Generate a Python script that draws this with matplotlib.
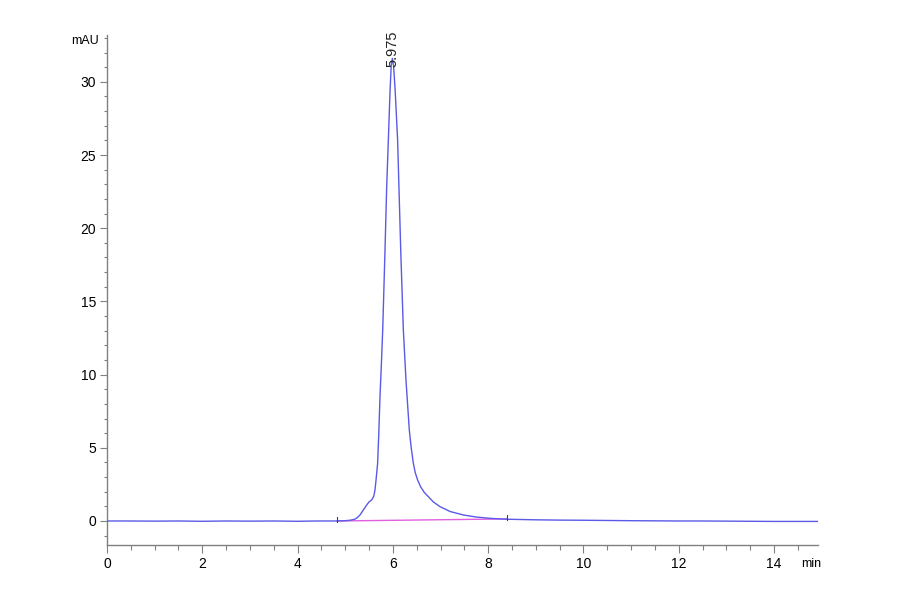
import matplotlib
matplotlib.use("Agg")
import matplotlib.pyplot as plt
from matplotlib.ticker import MultipleLocator

plt.rcParams['font.family'] = ['Liberation Sans Narrow', 'Liberation Sans', 'DejaVu Sans']

# Chromatogram trace (time in min, signal in mAU)
trace_t = [0.0, 0.5, 1.0, 1.5, 2.0, 2.5, 3.0, 3.5, 4.0, 4.4, 4.6, 4.83, 5.0, 5.1, 5.15,
           5.2, 5.25, 5.31, 5.38, 5.45, 5.5, 5.556, 5.6, 5.625, 5.65, 5.68, 5.705, 5.73,
           5.76, 5.787, 5.835, 5.87, 5.905, 5.94, 5.965, 5.99, 6.015, 6.05, 6.10, 6.165,
           6.22, 6.275, 6.345, 6.385, 6.43, 6.47, 6.52, 6.58, 6.66, 6.745, 6.85, 6.99, 7.2,
           7.48, 7.75, 8.04, 8.39, 9.0, 9.5, 10.0, 11.0, 12.0, 12.5, 13.0, 13.5, 14.0,
           14.5, 14.92]
trace_v = [0.0, 0.0, -0.01, 0.0, -0.02, 0.0, -0.01, 0.0, -0.02, 0.0, 0.0, 0.0, 0.02, 0.05, 0.08,
           0.12, 0.22, 0.41, 0.75, 1.09, 1.3, 1.44, 1.7, 2.12, 2.9, 3.94, 6.0, 8.5,
           10.8, 13.06, 18.5, 22.8, 26.0, 29.3, 31.1, 31.6, 31.1, 29.3, 26.0, 18.5,
           13.06, 9.64, 6.22, 5.0, 3.94, 3.3, 2.8, 2.35, 1.95, 1.66, 1.3, 0.98, 0.65,
           0.41, 0.27, 0.18, 0.12, 0.08, 0.06, 0.05, 0.02, 0.0, 0.0, -0.01, -0.02, -0.03,
           -0.03, -0.03]

# Integration baseline
base_t = [4.83, 8.39]
base_v = [0.0, 0.14]

peak_rt = 5.99
peak_label = "5.975"
peak_label_y = 31.0

fig = plt.figure(figsize=(9, 5.94), dpi=100)
ax = fig.add_axes([0.1189, 0.0825, 0.7898, 0.8586])

ax.plot(trace_t, trace_v, color='#5a5ae6', lw=1.0, zorder=3)
ax.plot(base_t, base_v, color='#e060e0', lw=1.0, zorder=2)

# start / end integration marks
for bt, bv in zip(base_t, base_v):
    ax.plot([bt, bt], [bv - 0.1, bv + 0.3], color='#444444', lw=0.8, zorder=4)

ax.text(peak_rt, peak_label_y, peak_label, rotation=90, ha='center', va='bottom',
        fontsize=10.5, color='#222222', family=['Liberation Sans', 'DejaVu Sans'])

ax.set_xlim(0, 14.92)
ax.set_ylim(-1.64, 33.2)

ax.xaxis.set_major_locator(MultipleLocator(2))
ax.xaxis.set_minor_locator(MultipleLocator(0.5))
ax.yaxis.set_major_locator(MultipleLocator(5))
ax.yaxis.set_minor_locator(MultipleLocator(1))

for s in ['top', 'right']:
    ax.spines[s].set_visible(False)
for s in ['left', 'bottom']:
    ax.spines[s].set_color('#808080')
    ax.spines[s].set_linewidth(1.0)

ax.tick_params(axis='x', which='major', length=6, width=0.8, color='#808080', labelsize=10, pad=3)
ax.tick_params(axis='x', which='minor', length=3.5, width=0.8, color='#808080')
ax.tick_params(axis='y', which='major', length=5, width=0.8, color='#808080', labelsize=10, pad=3)
ax.tick_params(axis='y', which='minor', length=2, width=0.8, color='#808080')

ax.text(-0.012, 1.0, 'mAU', transform=ax.transAxes, ha='right', va='top', fontsize=9)
ax.text(1.005, -0.025, 'min', transform=ax.transAxes, ha='right', va='top', fontsize=9)

fig.savefig('out.png', dpi=100)
